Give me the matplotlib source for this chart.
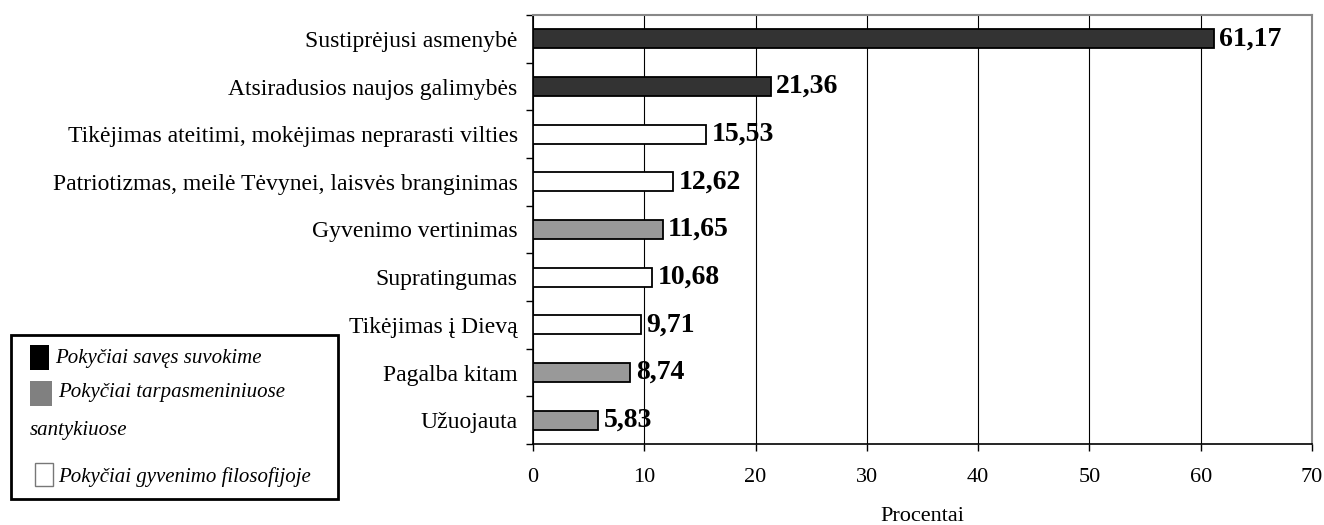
import matplotlib
matplotlib.use("Agg")
import matplotlib.pyplot as plt
from matplotlib.patches import Rectangle

plt.rcParams['font.family'] = ['Liberation Serif', 'DejaVu Serif']

categories = [
    "Sustiprėjusi asmenybė",
    "Atsiradusios naujos galimybės",
    "Tikėjimas ateitimi, mokėjimas neprarasti vilties",
    "Patriotizmas, meilė Tėvynei, laisvės branginimas",
    "Gyvenimo vertinimas",
    "Supratingumas",
    "Tikėjimas į Dievą",
    "Pagalba kitam",
    "Užuojauta",
]
values = [61.17, 21.36, 15.53, 12.62, 11.65, 10.68, 9.71, 8.74, 5.83]
groups = [0, 0, 2, 2, 1, 2, 2, 1, 1]
group_names = [
    "Pokyčiai savęs suvokime",
    "Pokyčiai tarpasmeniniuose",
    "Pokyčiai gyvenimo filosofijoje",
]
group_colors = ["#333333", "#999999", "#ffffff"]
swatch_colors = ["#000000", "#808080", "#ffffff"]
xticks = [0, 10, 20, 30, 40, 50, 60, 70]

W, H = 1324, 525
fig = plt.figure(figsize=(W / 100, H / 100), dpi=100)
ax = fig.add_axes([533 / W, 1 - 444 / H, (1312 - 533) / W, (444 - 15) / H])

n = len(categories)
ypos = list(range(n))[::-1]
colors = [group_colors[g] for g in groups]
ax.barh(ypos, values, height=0.4, color=colors, edgecolor='black', linewidth=1.3, zorder=3)

for y, v in zip(ypos, values):
    ax.text(v + 0.5, y, f"{v:.2f}".replace('.', ','), va='center', ha='left',
            fontsize=20, fontweight='bold', zorder=4)

ax.set_xlim(0, 70)
ax.set_ylim(-0.5, n - 0.5)
ax.set_xticks(xticks)
ax.set_xticklabels([str(t) for t in xticks], fontsize=16)
ax.set_yticks(ypos)
ax.set_yticklabels(categories, fontsize=17)
ax.set_yticks([i - 0.5 for i in range(n + 1)], minor=True)
ax.tick_params(axis='y', which='major', length=0, pad=11)
ax.tick_params(axis='y', which='minor', length=5, width=1, direction='out')
ax.tick_params(axis='x', length=5, width=1, direction='out', pad=12)
ax.xaxis.grid(True, color='black', linewidth=0.8, zorder=0)
ax.set_axisbelow(True)
for side in ['top', 'right']:
    ax.spines[side].set_color('#888888')
    ax.spines[side].set_linewidth(1.5)
for side in ['left', 'bottom']:
    ax.spines[side].set_color('black')
    ax.spines[side].set_linewidth(1.2)
ax.set_xlabel("Procentai", fontsize=16, labelpad=15)

# Legend box drawn on the figure in pixel positions
def fx(px):
    return px / W

def fy(py):
    return 1 - py / H

fig.patches.append(Rectangle((fx(11), fy(499)), fx(327), (499 - 335) / H,
                             transform=fig.transFigure, facecolor='white',
                             edgecolor='black', linewidth=2))
swatches = [(30, 345, 19, 25), (30, 381, 22, 25), (35, 463, 18, 23)]
text_pos = [(55, 358), (58, 393), (58, 477)]
for i in range(3):
    sx, sy, sw, sh = swatches[i]
    ec = 'none' if i < 2 else '#777777'
    fig.patches.append(Rectangle((fx(sx), fy(sy + sh)), fx(sw), sh / H,
                                 transform=fig.transFigure, facecolor=swatch_colors[i],
                                 edgecolor=ec, linewidth=1))
    tx, ty = text_pos[i]
    fig.text(fx(tx), fy(ty), group_names[i], fontsize=15, style='italic',
             va='center', ha='left')
fig.text(fx(30), fy(431), "santykiuose", fontsize=15, style='italic',
         va='center', ha='left')

fig.savefig("out.png", dpi=100)
